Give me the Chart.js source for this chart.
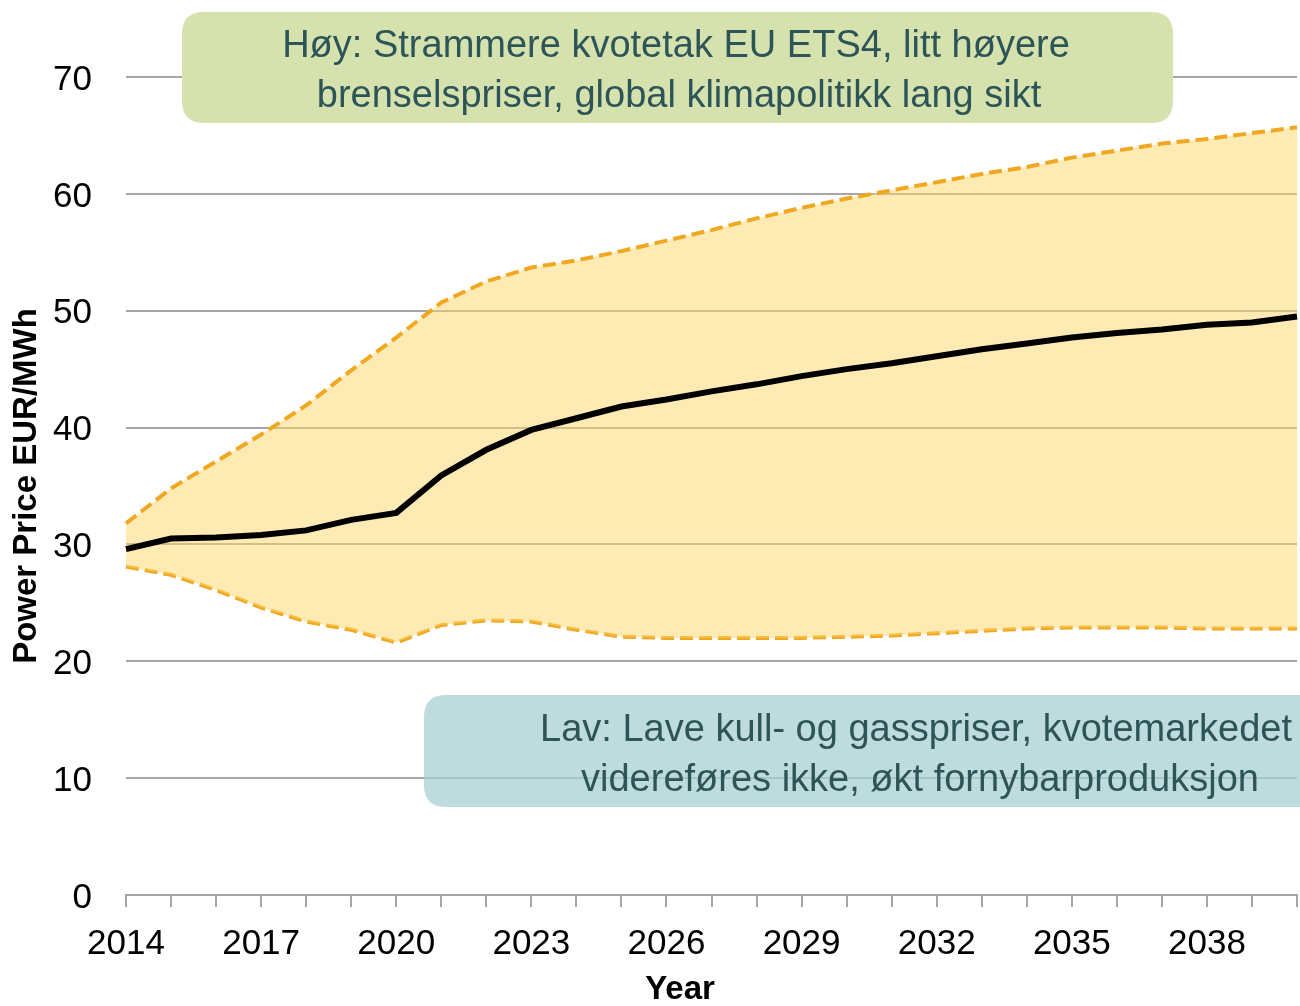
<!DOCTYPE html>
<html>
<head>
<meta charset="utf-8">
<script src="https://cdn.jsdelivr.net/npm/chart.js@4.4.1/dist/chart.umd.min.js"></script>
<style>
  html, body { margin: 0; padding: 0; background: #fff; }
  #wrap { width: 1300px; height: 1006px; position: relative; }
</style>
</head>
<body>
<div id="wrap"><canvas id="myChart"></canvas></div>
<script>
const years = ['2014','2015','2016','2017','2018','2019','2020','2021','2022','2023','2024','2025','2026',
               '2027','2028','2029','2030','2031','2032','2033','2034','2035','2036','2037','2038','2039','2040'];
const basePrice = [29.6, 30.5, 30.6, 30.8, 31.2, 32.1, 32.7, 35.9, 38.1, 39.8, 40.8, 41.8, 42.4,
                   43.1, 43.7, 44.4, 45.0, 45.5, 46.1, 46.7, 47.2, 47.7, 48.1, 48.4, 48.8, 49.0, 49.5];
const highPrice = [31.8, 34.8, 37.1, 39.4, 41.9, 44.9, 47.7, 50.7, 52.5, 53.7, 54.3, 55.1, 56.0,
                   56.9, 57.9, 58.8, 59.6, 60.3, 61.0, 61.7, 62.3, 63.1, 63.7, 64.3, 64.7, 65.2, 65.7];
const lowPrice  = [28.1, 27.4, 26.1, 24.6, 23.4, 22.7, 21.6, 23.1, 23.5, 23.4, 22.7, 22.1, 22.0,
                   22.0, 22.0, 22.0, 22.1, 22.2, 22.4, 22.6, 22.8, 22.9, 22.9, 22.9, 22.8, 22.8, 22.8];
const yTicks = [0, 10, 20, 30, 40, 50, 60, 70];
const highText = ['Høy: Strammere kvotetak EU ETS4, litt høyere', 'brenselspriser, global klimapolitikk lang sikt'];
const lowText = ['Lav: Lave kull- og gasspriser, kvotemarkedet', 'videreføres ikke, økt fornybarproduksjon'];

const FONT = "'Liberation Sans', Arial, sans-serif";

function roundRect(ctx, x, y, w, h, r) {
    ctx.beginPath();
    ctx.moveTo(x + r, y);
    ctx.lineTo(x + w - r, y);
    ctx.quadraticCurveTo(x + w, y, x + w, y + r);
    ctx.lineTo(x + w, y + h - r);
    ctx.quadraticCurveTo(x + w, y + h, x + w - r, y + h);
    ctx.lineTo(x + r, y + h);
    ctx.quadraticCurveTo(x, y + h, x, y + h - r);
    ctx.lineTo(x, y + r);
    ctx.quadraticCurveTo(x, y, x + r, y);
    ctx.closePath();
}

// notes and the x title
const boxes = {
    id: 'boxes',
    afterDraw(chart) {
        const ctx = chart.ctx;
        ctx.save();
        roundRect(ctx, 182, 12, 991, 111, 22);
        ctx.fillStyle = '#d6e2ae';
        ctx.fill();
        ctx.fillStyle = '#2d5558';
        ctx.font = '38px ' + FONT;
        ctx.textAlign = 'center';
        ctx.textBaseline = 'middle';
        ctx.fillText(highText[0], 676, 47);
        ctx.fillText(highText[1], 679, 97);

        roundRect(ctx, 424, 695, 1000, 112, 22);
        ctx.fillStyle = 'rgba(168,207,211,0.75)';
        ctx.fill();
        ctx.fillStyle = '#2d5558';
        ctx.fillText(lowText[0], 916, 731);
        ctx.fillText(lowText[1], 920, 781);

        ctx.fillStyle = '#000';
        ctx.font = 'bold 33px ' + FONT;
        ctx.fillText('Year', 680, 990);
        ctx.restore();
    }
};

const ctx = document.getElementById('myChart').getContext('2d');
const myChart = new Chart(ctx, {
    type: 'line',
    data: {
        labels: years,
        datasets: [
            {
                label: 'Lav',
                data: lowPrice,
                borderColor: '#f0a823',
                borderWidth: 4,
                borderDash: [13, 6],
                pointRadius: 0,
                fill: false,
                order: 2,
            },
            {
                label: 'Høy',
                data: highPrice,
                borderColor: '#f0a823',
                borderWidth: 4,
                borderDash: [13, 6],
                pointRadius: 0,
                fill: '-1',
                backgroundColor: 'rgba(253,216,104,0.5)',
                order: 1,
            },
            {
                label: 'Basis',
                data: basePrice,
                borderColor: '#000000',
                borderWidth: 6,
                pointRadius: 0,
                fill: false,
                order: 0,
            }
        ]
    },
    options: {
        responsive: true,
        maintainAspectRatio: false,
        animation: false,
        layout: { padding: { top: 77, right: 3, left: 0, bottom: 0 } },
        plugins: {
            legend: { display: false },
            tooltip: { enabled: false },
        },
        scales: {
            x: {
                type: 'category',
                offset: false,
                grid: {
                    drawOnChartArea: false,
                    drawTicks: true,
                    tickLength: 12,
                    color: '#a6a6a6',
                    lineWidth: 2,
                },
                border: { color: '#a6a6a6', width: 2 },
                ticks: {
                    autoSkip: false,
                    maxRotation: 0,
                    padding: 16,
                    color: '#000',
                    font: { family: FONT, size: 35 },
                    callback: (v, i) => (i % 3 === 0 ? years[i] : ''),
                },
                afterFit: (scale) => {
                    scale.height = 111;
                    scale.paddingRight = 0;
                    scale.paddingLeft = 0;
                },
            },
            y: {
                min: 0,
                max: 70,
                afterBuildTicks: (scale) => { scale.ticks = yTicks.map(v => ({ value: v })); },
                grid: {
                    drawTicks: false,
                    color: '#a6a6a6',
                    lineWidth: 2,
                },
                border: { display: false },
                ticks: {
                    padding: 34,
                    labelOffset: 3,
                    color: '#000',
                    font: { family: FONT, size: 35 },
                },
                title: {
                    display: true,
                    text: 'Power Price EUR/MWh',
                    color: '#000',
                    font: { family: FONT, size: 33, weight: 'bold' },
                    padding: { top: 7, bottom: 0 },
                },
                afterFit: (scale) => { scale.width = 126; },
            }
        }
    },
    plugins: [boxes]
});
</script>
</body>
</html>
